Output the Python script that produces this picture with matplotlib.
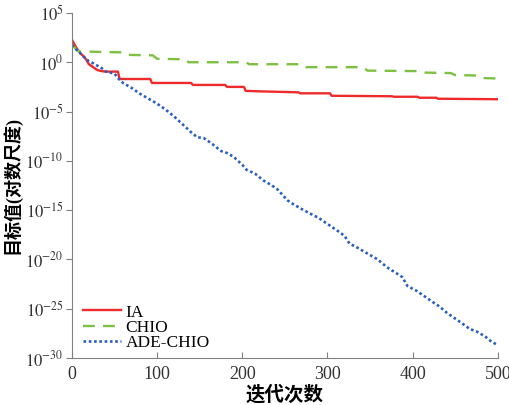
import numpy as np
import matplotlib.pyplot as plt

plt.rcParams.update({
    "font.family": ["Liberation Serif", "Noto Sans CJK SC"],
    "mathtext.fontset": "stix",
    "font.size": 11,
})

# 数据 (迭代次数, log10 目标值) —— 从原图估读
ia_iter = [0, 5, 10, 15, 20, 25, 30, 35, 40, 54, 56, 92, 94, 140, 142, 180, 182,
           202, 204, 220, 266, 268, 303, 305, 376, 378, 406, 408, 428, 430, 500]
ia_log = [2.3, 1.5, 0.9, 0.5, -0.2, -0.5, -0.8, -0.9, -0.95, -0.95, -1.7, -1.7, -2.1,
          -2.1, -2.3, -2.3, -2.5, -2.5, -2.9, -2.95, -3.05, -3.15, -3.15, -3.4, -3.45,
          -3.5, -3.5, -3.6, -3.6, -3.7, -3.75]

chio_iter = [0, 8, 60, 65, 95, 100, 133, 137, 205, 208, 270, 275, 342, 347, 410, 415,
             445, 450, 478, 483, 500]
chio_log = [1.75, 1.1, 1.0, 0.75, 0.7, 0.35, 0.3, 0.0, 0.0, -0.2, -0.2, -0.5, -0.5,
            -0.85, -0.9, -1.05, -1.1, -1.3, -1.35, -1.6, -1.65]

ade_iter = [0, 5, 10, 15, 20, 25, 30, 35, 40, 45, 50, 55, 60, 70, 80, 90, 100, 110,
            120, 130, 140, 147, 155, 165, 175, 182, 190, 200, 205, 215, 225, 235, 242,
            253, 260, 270, 283, 290, 300, 312, 320, 326, 335, 345, 359, 370, 381, 388,
            394, 405, 415, 425, 432, 440, 450, 460, 467, 475, 485, 492, 500]
ade_log = [1.75, 1.3, 0.9, 0.45, 0.1, -0.1, -0.35, -0.6, -0.95, -1.05, -1.15, -1.7,
           -2.1, -2.6, -3.2, -3.7, -4.2, -4.8, -5.5, -6.3, -7.1, -7.6, -7.7, -8.3, -9.0,
           -9.2, -9.6, -10.4, -10.9, -11.3, -12.0, -12.5, -12.95, -14.0, -14.4, -14.9,
           -15.5, -15.8, -16.4, -17.1, -17.6, -18.4, -18.8, -19.3, -20.0, -20.8, -21.4,
           -21.8, -22.7, -23.2, -23.8, -24.4, -24.8, -25.4, -26.0, -26.6, -27.05, -27.3,
           -27.8, -28.3, -28.7]

fig = plt.figure(figsize=(5.1, 4.05), dpi=100)
ax = fig.add_axes([0.141, 0.116, 0.835, 0.852])

ax.plot(ia_iter, 10.0 ** np.array(ia_log), color="#ee2a2a", lw=1.7, label="IA")
ax.plot(chio_iter, 10.0 ** np.array(chio_log), color="#7cc142", lw=1.7,
        ls=(0, (5, 3.5)), label="CHIO")
ax.plot(ade_iter, 10.0 ** np.array(ade_log), color="#2b5fbd", lw=1.9,
        ls=(0, (1, 1)), label="ADE-CHIO")

ax.set_yscale("log")
ax.set_xlim(0, 500)
ax.set_ylim(1e-30, 1e5)
ax.set_xticks([0, 100, 200, 300, 400, 500])
ax.set_yticks([10.0 ** e for e in range(5, -31, -5)])
ax.set_yticklabels([f"$\\mathrm{{10}}^{{{e}}}$" for e in range(5, -31, -5)])
ax.minorticks_off()

for s in ["top", "right"]:
    ax.spines[s].set_visible(False)
for s in ["left", "bottom"]:
    ax.spines[s].set_color("#808080")
ax.tick_params(axis="x", direction="in", length=4, color="#808080", labelsize=13,
               pad=6, labelcolor="#333333")
ax.tick_params(axis="y", direction="out", length=4, color="#808080", labelsize=12,
               pad=2, labelcolor="#333333")

ax.set_xlabel("迭代次数", fontsize=14, fontweight="bold", labelpad=1)
ax.set_ylabel("目标值(对数尺度)", fontsize=13, fontweight="bold", labelpad=3)

ax.legend(loc="lower left", frameon=False, fontsize=12.5, handlelength=2.2,
          handletextpad=0.25, labelspacing=-0.05, borderaxespad=0.0,
          bbox_to_anchor=(0.01, 0.0))

fig.savefig("out.png", dpi=100)
